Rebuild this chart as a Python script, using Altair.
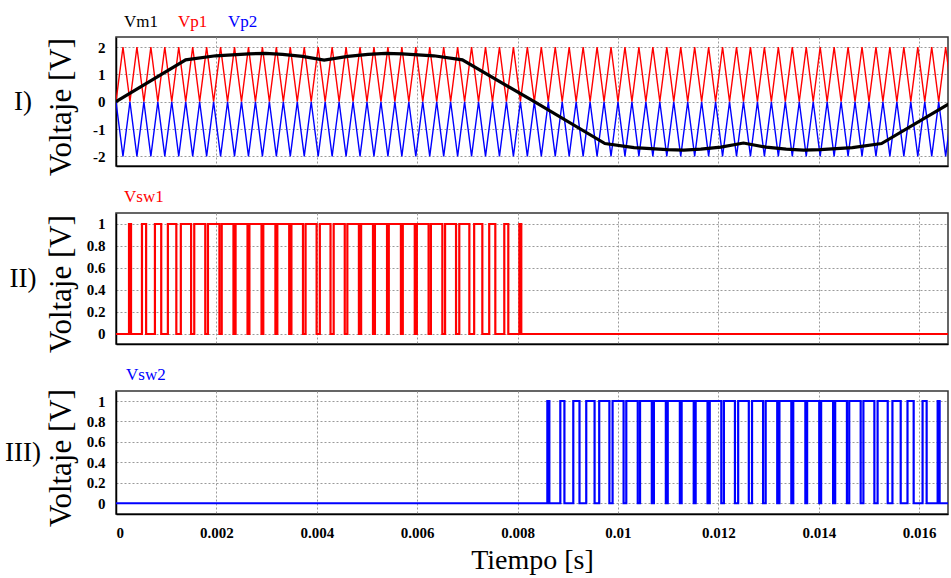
import altair as alt
import numpy as np
import pandas as pd

# ---------------- data ----------------
# modulating signal Vm1 (time [s], voltage [V])
vm1_t = [0.0, 0.001388, 0.001986, 0.00265, 0.00298, 0.003315, 0.003713, 0.004147,
         0.00462, 0.00502, 0.00537, 0.00570, 0.00633, 0.00690, 0.008333,
         0.00974, 0.01032, 0.01098, 0.01131, 0.01165, 0.01205, 0.01250,
         0.01295, 0.01335, 0.01370, 0.01403, 0.01467, 0.01525, 0.016667]
vm1_v = [0.0, 1.53, 1.68, 1.75, 1.77, 1.73, 1.66, 1.52,
         1.66, 1.73, 1.77, 1.75, 1.68, 1.53, 0.0,
         -1.53, -1.68, -1.75, -1.77, -1.73, -1.66, -1.51,
         -1.66, -1.73, -1.77, -1.75, -1.68, -1.53, 0.0]

# triangular carriers Vp1 (0..2 V) and Vp2 (0..-2 V)
carrier_period = 1 / 3600.0
carrier_peak = 2.0

t_max = 0.016574
x_ticks = [0, 0.002, 0.004, 0.006, 0.008, 0.01, 0.012, 0.014, 0.016]
y_ticks_1 = [-2, -1, 0, 1, 2]
y_ticks_sw = [0, 0.2, 0.4, 0.6, 0.8, 1]
series_1 = ["Vm1", "Vp1", "Vp2"]
series_sw = ["Vsw1", "Vsw2"]
panel_labels = ["I)", "II)", "III)"]
colors = {"Vm1": "#000000", "Vp1": "#ff0000", "Vp2": "#0000ff",
          "Vsw1": "#ff0000", "Vsw2": "#0000ff"}

# ---------------- tables ----------------
n_half = int(np.ceil(t_max / (carrier_period / 2))) + 1
car_t = [k * carrier_period / 2 for k in range(n_half)]
car_v = [carrier_peak if k % 2 else 0.0 for k in range(n_half)]
df_vp1 = pd.DataFrame({"t": car_t, "v": car_v, "o": range(n_half)})
df_vp2 = pd.DataFrame({"t": car_t, "v": [-v for v in car_v], "o": range(n_half)})
df_vm1 = pd.DataFrame({"t": vm1_t, "v": vm1_v, "o": range(len(vm1_t))})

# comparator outputs (Vm1 against the carriers)
tt = np.linspace(0, t_max, 400001)
vm = np.interp(tt, vm1_t, vm1_v)
vp1 = np.interp(tt, car_t, car_v)
on1 = vm > vp1 + 0.02
on2 = vm < -vp1 - 0.02


def steps(on):
    idx = np.nonzero(np.diff(on.astype(int)))[0]
    ts, vs = [tt[0]], [int(on[0])]
    for i in idx:
        tc = 0.5 * (tt[i] + tt[i + 1])
        ts += [tc, tc]
        vs += [int(on[i]), int(on[i + 1])]
    ts.append(tt[-1])
    vs.append(int(on[-1]))
    return pd.DataFrame({"t": ts, "v": vs, "o": range(len(ts))})


df_sw1 = steps(on1)
df_sw2 = steps(on2)

# ---------------- styling ----------------
SERIF = "Liberation Serif, Times New Roman, serif"
W = 832
grid_kw = dict(grid=True, gridColor="#9a9a9a", gridDash=[2, 2], gridWidth=1)


def xscale():
    return alt.Scale(domain=[0, t_max], nice=False, zero=False)


def xaxis(show):
    if show:
        return alt.Axis(values=x_ticks, format="~g", title="Tiempo [s]",
                        labelFont=SERIF, labelFontWeight="bold", labelFontSize=15,
                        labelColor="black", labelPadding=11, ticks=False, tickSize=0,
                        domainColor="black", domainWidth=1.5,
                        titleFont=SERIF, titleFontSize=28, titleFontWeight="normal",
                        titleColor="black", titlePadding=6, **grid_kw)
    return alt.Axis(values=x_ticks, labels=False, ticks=False, tickSize=0, title=None,
                    domainColor="black", domainWidth=1.5, **grid_kw)


def yaxis(values, h, expr=None):
    kw = dict(values=values, format="~g", title="Voltaje [V]",
              labelFont=SERIF, labelFontWeight="bold", labelFontSize=15,
              labelColor="black", labelPadding=11, ticks=False, tickSize=0,
              domainColor="black", domainWidth=1.5,
              titleFont=SERIF, titleFontSize=31, titleFontWeight="normal",
              titleColor="black", titleX=-46, titleY=h / 2 + 5,
              titleBaseline="alphabetic", titleAlign="center", titleAngle=270, **grid_kw)
    if expr:
        kw["labelExpr"] = expr
    return alt.Axis(**kw)


def line(df, color, width, ydom, yax, show_x=False):
    return alt.Chart(df).mark_line(color=color, strokeWidth=width, clip=True).encode(
        x=alt.X("t:Q", scale=xscale(), axis=xaxis(show_x)),
        y=alt.Y("v:Q", scale=alt.Scale(domain=ydom, nice=False, zero=False), axis=yax),
        order="o:Q",
    )


def label(text, color, x, y, size=17, align="left", baseline="alphabetic"):
    return alt.Chart(pd.DataFrame({"s": [text]})).mark_text(
        font=SERIF, fontSize=size, color=color, align=align, baseline=baseline
    ).encode(text="s:N", x=alt.value(x), y=alt.value(y))


# ---------------- panel I ----------------
H1 = 129
ydom1 = [-2.35, 2.367]
ax1 = yaxis(y_ticks_1, H1, expr="replace(datum.label, '\u2212', '-')")
p1 = alt.layer(
    line(df_vp1, colors["Vp1"], 1.4, ydom1, ax1),
    line(df_vp2, colors["Vp2"], 1.4, ydom1, ax1),
    line(df_vm1, colors["Vm1"], 3.2, ydom1, ax1),
    label(series_1[0], colors["Vm1"], 8, -10),
    label(series_1[1], colors["Vp1"], 62, -10),
    label(series_1[2], colors["Vp2"], 112, -10),
    label(panel_labels[0], "black", -93, H1 / 2, size=27, align="center", baseline="middle"),
).properties(width=W, height=H1)

# ---------------- panel II ----------------
H2 = 131
ydom2 = [-0.091, 1.1]
p2 = alt.layer(
    line(df_sw1, colors["Vsw1"], 2.2, ydom2, yaxis(y_ticks_sw, H2)),
    label(series_sw[0], colors["Vsw1"], 8, -11),
    label(panel_labels[1], "black", -93, H2 / 2, size=27, align="center", baseline="middle"),
).properties(width=W, height=H2)

# ---------------- panel III ----------------
H3 = 123
ydom3 = [-0.105, 1.098]
p3 = alt.layer(
    line(df_sw2, colors["Vsw2"], 2.2, ydom3, yaxis(y_ticks_sw, H3), show_x=True),
    label(series_sw[1], colors["Vsw2"], 10, -11),
    label(panel_labels[2], "black", -93, H3 / 2, size=27, align="center", baseline="middle"),
).properties(width=W, height=H3)

chart = alt.vconcat(p1, p2, p3, spacing=47, bounds="flush").configure_view(
    stroke="#333333", strokeWidth=1.5
).properties(
    padding={"left": 4, "top": 12, "right": 0, "bottom": 0},
    background="white",
)

chart.save("out.html", embed_options={"renderer": "svg", "actions": False})
